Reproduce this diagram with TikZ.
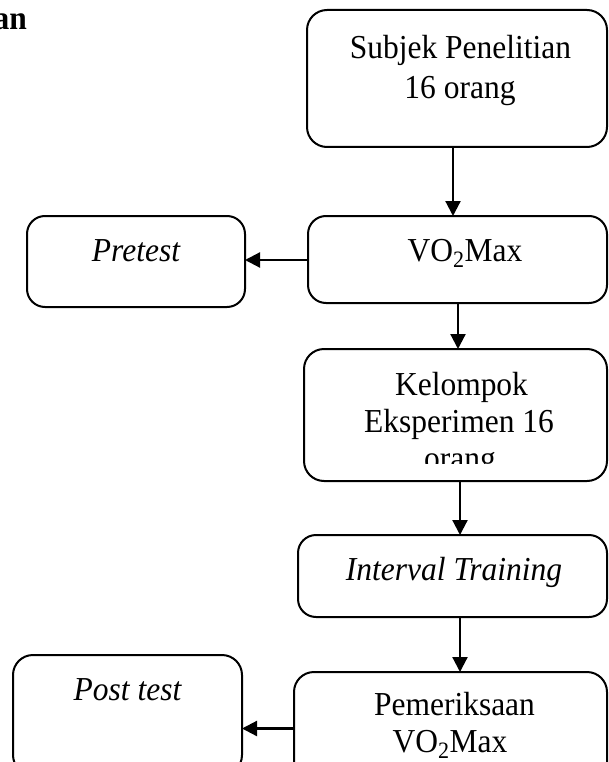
\documentclass[tikz,border=0pt]{standalone}
\usepackage{fontspec}
\setmainfont{Liberation Serif}[FakeStretch=0.94]
\usetikzlibrary{arrows.meta}
\begin{document}
\begin{tikzpicture}[x=1pt,y=-1pt,
  box/.style={draw=black, line width=2pt, rounded corners=18pt, inner sep=0pt, outer sep=0pt, anchor=north west},
  txt/.style={inner sep=0pt, outer sep=0pt, anchor=base, font=\fontsize{33.5}{36}\selectfont},
  arr/.style={line width=2.2pt, -{Triangle[length=15pt,width=15pt]}}]
\fill[white] (0,0) rectangle (608,762);
\useasboundingbox (0,0) rectangle (608,762);
\clip (0,0) rectangle (608,762);

% boxes
\node[box, rounded corners=20pt, minimum width=300pt, minimum height=137pt] (subj) at (307,10) {};
\node[box, minimum width=218pt, minimum height=91pt] (pre) at (27,216) {};
\node[box, minimum width=299pt, minimum height=87pt] (vo2) at (308,216) {};
\node[box, rounded corners=20pt, minimum width=303pt, minimum height=132pt] (kel) at (304,349) {};
\node[box, minimum width=309pt, minimum height=82pt] (int) at (298,535) {};
\node[box, rounded corners=20pt, minimum width=313pt, minimum height=110pt] (pem) at (294,672) {};
\node[box, rounded corners=20pt, minimum width=229pt, minimum height=120pt] (post) at (13,655) {};

% texts
\node[txt, anchor=base east, font=\fontsize{33.5}{36}\selectfont\bfseries] (hdr) at (27,30) {an};
\node[txt] (subjA) at (460.5,59) {Subjek Penelitian};
\node[txt] (subjB) at (460,99) {16 orang};
\node[txt, font=\fontsize{33.5}{36}\selectfont\itshape] (preT) at (136,261) {Pretest};
\node[txt] (vo2T) at (465,261) {VO\textsubscript{2}Max};
\node[txt] (kelA) at (461.5,395) {Kelompok};
\node[txt] (kelB) at (459,432) {Eksperimen 16};
\begin{scope}
  \clip (300,440) rectangle (608,463);
  \node[txt] (kelC) at (460,469) {orang};
\end{scope}
\node[txt, font=\fontsize{33.5}{36}\selectfont\itshape] (intT) at (454,580) {Interval Training};
\node[txt] (pemA) at (454.5,715) {Pemeriksaan};
\node[txt] (pemB) at (450,752) {VO\textsubscript{2}Max};
\node[txt, font=\fontsize{33.5}{36}\selectfont\itshape] (postT) at (127.5,700) {Post test};

% connectors
\draw[arr] ([xshift=-4pt]subj.south) -- ([xshift=-4pt]subj.south |- vo2.north);
\draw[arr] ([yshift=-0.5pt]vo2.west) -- ([yshift=-0.5pt]vo2.west -| pre.east);
\draw[arr] ([xshift=0.5pt]vo2.south) -- ([xshift=0.5pt]vo2.south |- kel.north);
\draw[arr] ([xshift=4.5pt]kel.south) -- ([xshift=4.5pt]kel.south |- int.north);
\draw[arr] ([xshift=7.5pt]int.south) -- ([xshift=7.5pt]int.south |- pem.north);
\draw[arr] ([yshift=-1.5pt]pem.west) -- ([yshift=-1.5pt]pem.west -| post.east);
\end{tikzpicture}
\end{document}
